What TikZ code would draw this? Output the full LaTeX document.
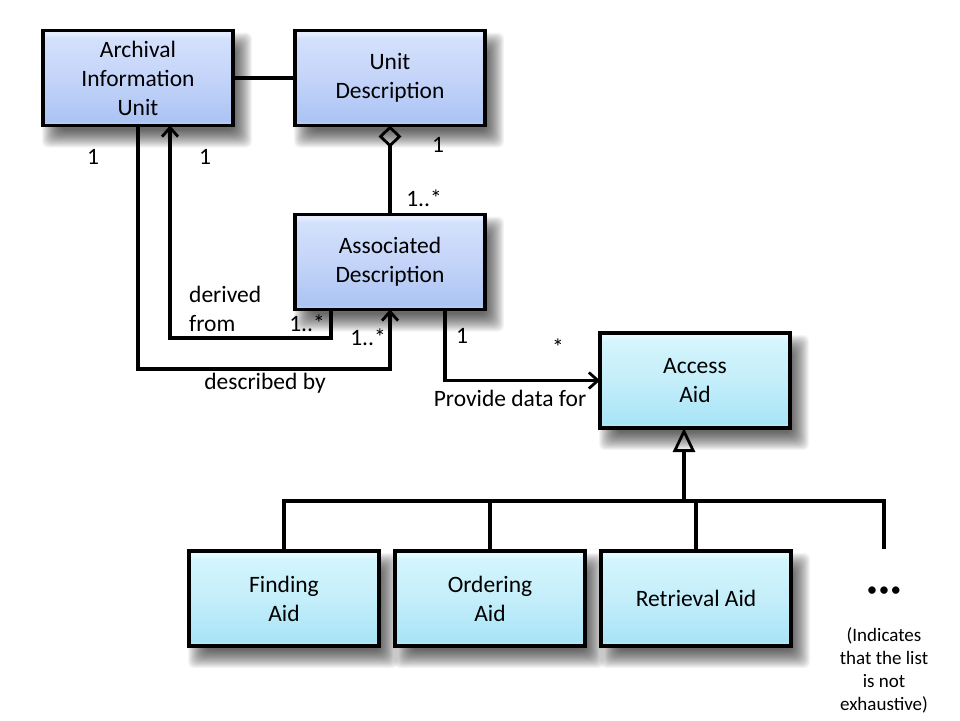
\documentclass[tikz,border=0pt]{standalone}
\usepackage{fontspec}
\setmainfont{Carlito}
\usetikzlibrary{arrows.meta,calc}
\pgfdeclarelayer{bg}
\pgfsetlayers{bg,main}
\definecolor{bw}{RGB}{228,236,253}
\definecolor{btop}{RGB}{212,225,252}
\definecolor{bmid}{RGB}{196,212,249}
\definecolor{bbot}{RGB}{172,196,244}
\definecolor{bl}{RGB}{196,212,249}
\definecolor{cw}{RGB}{230,249,254}
\definecolor{ctop}{RGB}{212,245,253}
\definecolor{cmid}{RGB}{196,238,250}
\definecolor{cbot}{RGB}{168,228,246}
\definecolor{cl}{RGB}{196,238,250}
\pgfdeclareverticalshading{bluebevel}{100bp}{color(0bp)=(bl); color(25bp)=(bl); color(27.5bp)=(bbot); color(50bp)=(bmid); color(71bp)=(btop); color(73bp)=(bw); color(100bp)=(bw)}
\pgfdeclareverticalshading{cyanbevel}{100bp}{color(0bp)=(cl); color(25bp)=(cl); color(27.5bp)=(cbot); color(50bp)=(cmid); color(71bp)=(ctop); color(73bp)=(cw); color(100bp)=(cw)}
\tikzset{
  box/.style={draw=black, line width=3.2pt, minimum width=190pt, minimum height=95pt,
    inner sep=2pt, outer sep=0pt, align=center,
    font=\fontsize{23.5}{29}\selectfont},
  bluebox/.style={box, shading=bluebevel},
  cyanbox/.style={box, shading=cyanbevel},
  conn/.style={line width=3.1pt},
  lbl/.style={font=\fontsize{23.5}{29}\selectfont, inner sep=0pt},
  openarrow/.style={-{Straight Barb[length=9pt,width=16pt,line width=2.8pt]}},
  shadowlayer/.style={fill=black, opacity=0.042},
}
\begin{document}
\begin{tikzpicture}[x=1pt,y=-1pt]
\useasboundingbox (0,0) rectangle (960,720);

\node[bluebox] (aiu) at (138,78) {Archival\\Information\\Unit};
\node[bluebox] (ud) at (390,78) {Unit\\Description};
\node[bluebox] (ad) at (390,262) {Associated\\Description};
\node[cyanbox] (aa) at (695,380.5) {Access\\Aid};
\node[cyanbox] (fa) at (284,598.5) {Finding\\Aid};
\node[cyanbox] (oa) at (490,598.5) {Ordering\\Aid};
\node[cyanbox] (ra) at (696,598.5) {Retrieval Aid};

\begin{pgfonlayer}{bg}
\fill[white] (0,0) rectangle (960,720);
\foreach \n in {aiu,ud,ad,aa,fa,oa,ra}{
  \foreach \e in {-8,...,10}{
    \fill[shadowlayer, rounded corners=6pt] ($(\n.north west)+(9-\e,12-\e)$) rectangle ($(\n.south east)+(9+\e,12+\e)$);
  }
}
\end{pgfonlayer}

\coordinate (bus) at (684,501);
\coordinate (busend) at (884,501);
\coordinate (dotstop) at (884,549);
\coordinate (c1) at (138,369);
\coordinate (c2) at (170,338);

% AIU -- UD
\draw[conn] (aiu.east) -- (ud.west);
% aggregation
\draw[conn, {Diamond[open,length=22pt,width=23pt,line width=2.8pt]}-] (ud.south) -- (ad.north);
% described by
\draw[conn, openarrow] (aiu.south) |- (c1) -| (ad.south);
% derived from
\draw[conn, openarrow] ([xshift=-59pt]ad.south) |- (c2) -- (c2 |- aiu.south);
% provide data for
\draw[conn, openarrow] ([xshift=55pt]ad.south) |- (aa.west);
% generalization
\draw[conn, -{Triangle[open,length=24pt,width=22pt,line width=2.8pt]}] (bus) -- (bus |- aa.south);
\draw[conn] (fa.north) |- (busend) -- (dotstop);
\draw[conn] (oa.north) -- (oa.north |- bus);
\draw[conn] (ra.north) -- (ra.north |- bus);

% labels
\node[lbl] (l1) at (93,157) {1};
\node[lbl] (l2) at (205,157) {1};
\node[lbl] (l3) at (438,145) {1};
\node[lbl] (l4) at (424,198) {1..*};
\node[lbl, anchor=west, align=left] (l5) at (189,309) {derived\\from};
\node[lbl] (l6) at (307,323) {1..*};
\node[lbl] (l7) at (368,337) {1..*};
\node[lbl] (l8) at (265,383) {described by};
\node[lbl] (l9) at (462,336) {1};
\node[lbl] (l10) at (558,347) {*};
\node[lbl] (l11) at (510,398) {Provide data for};
\node[lbl, font=\fontsize{21}{29}\selectfont] (dots) at (884,592) {•\kern1.5pt•\kern1.5pt•};
\node[lbl, align=center, font=\fontsize{19}{23}\selectfont] (note) at (884,670) {(Indicates\\that the list\\is not\\exhaustive)};
\end{tikzpicture}
\end{document}
